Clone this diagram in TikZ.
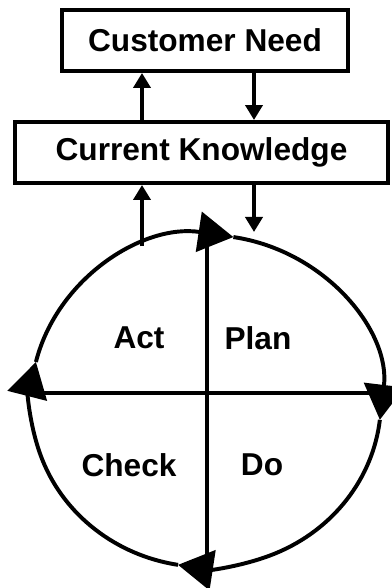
\documentclass[tikz,border=0pt]{standalone}
\usepackage{fontspec}
\setmainfont{Liberation Sans}
\usetikzlibrary{arrows.meta}
\tikzset{
  box/.style={draw, line width=2.8pt, inner sep=0pt, font=\fontsize{22.5}{27}\selectfont\bfseries},
  lbl/.style={font=\fontsize{22.5}{27}\selectfont\bfseries},
  link/.style={line width=2.8pt, -{Triangle[length=0.375cm,width=0.425cm]}},
  cyc/.style={line width=2.8pt, -{Triangle[length=0.875cm,width=1cm]}}
}
\begin{document}
\begin{tikzpicture}[x=0.025cm,y=0.025cm]
\useasboundingbox (0,0) rectangle (391,588);
\node[box, minimum width=7.15cm, minimum height=1.525cm] (need) at (205,547.5) {Customer Need};
\node[box, minimum width=9.325cm, minimum height=1.525cm] (know) at (201.5,435.5) {Current Knowledge};
\coordinate (up) at (142,0);
\coordinate (down) at (254,0);
\coordinate (o) at (206,187);
\coordinate (top) at (207,341);
\coordinate (bot) at (207,33);
\coordinate (west) at (30,195);
\coordinate (east) at (380,195);
\coordinate (rim) at (142,341.5);
\coordinate (hit) at (254,356);
\draw[link] (up |- know.north) -- (up |- need.south);
\draw[link] (down |- need.south) -- (down |- know.north);
\draw[link] (rim) -- (rim |- know.south);
\draw[link] (down |- know.south) -- (hit);
\draw[line width=2.8pt] (top) -- (bot) (west) -- (east);
\foreach \a/\b in {166.4/81, 81/-6.5, -6.5/-99.2, -99.2/-193.6}
  \draw[cyc] (o) ++(\a:175 and 166) arc[start angle=\a, end angle=\b, x radius=175, y radius=166];
\node[lbl] (act) at (139,250) {Act};
\node[lbl] (plan) at (258,250) {Plan};
\node[lbl] (check) at (129,123) {Check};
\node[lbl] (do) at (262,123) {Do};
\end{tikzpicture}
\end{document}
